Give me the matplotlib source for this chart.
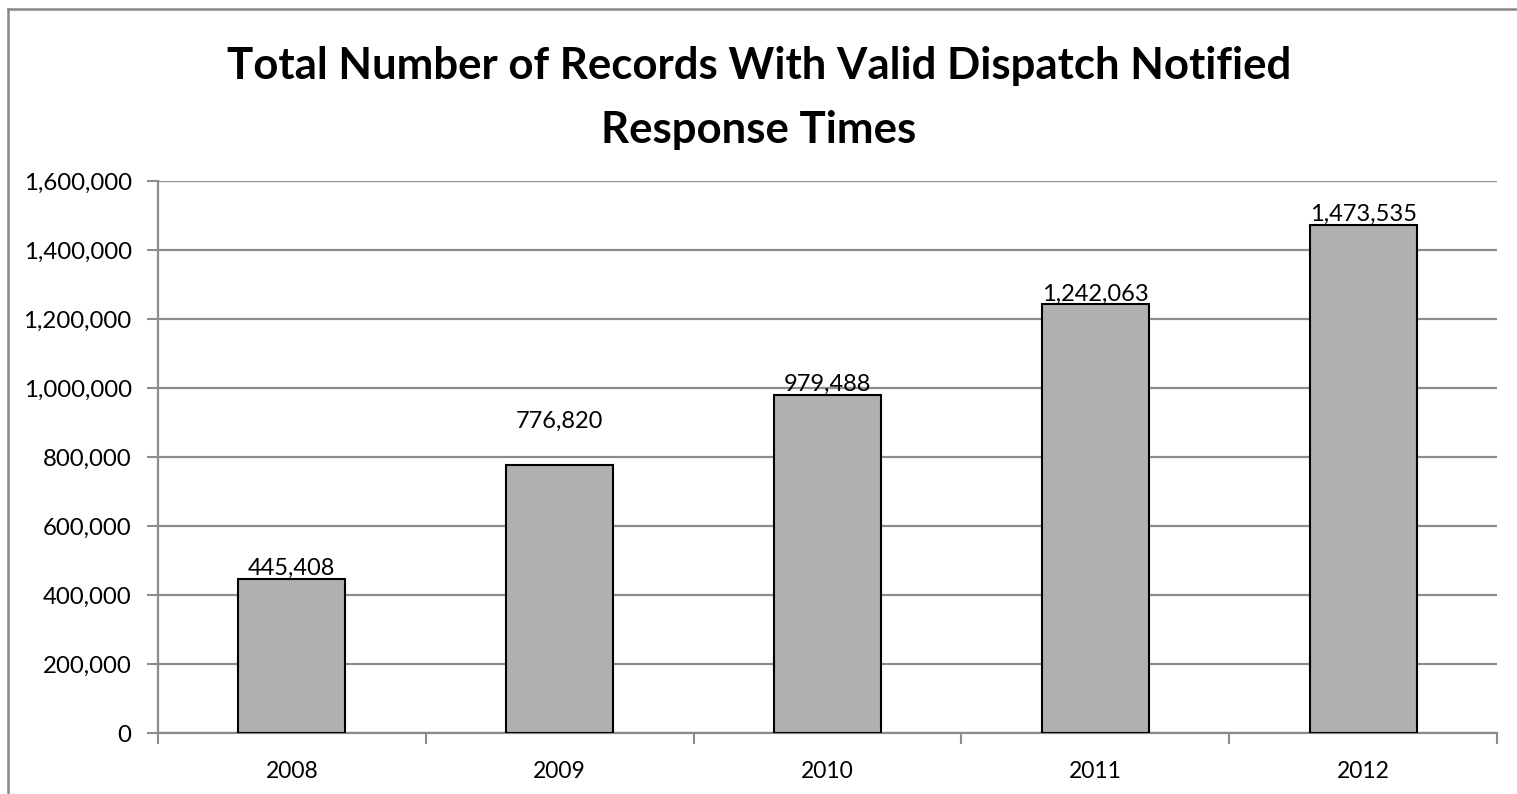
import matplotlib
matplotlib.use("Agg")
import matplotlib.pyplot as plt
from matplotlib.lines import Line2D
from matplotlib.ticker import FuncFormatter, FixedLocator
import numpy as np

# Records per year
years = ["2008", "2009", "2010", "2011", "2012"]
records = [445408, 776820, 979488, 1242063, 1473535]

# Label offsets above each bar (points)
label_offsets = [0, 24, 0, 0, 0]

plt.rcParams["font.family"] = ["Lato", "DejaVu Sans"]

fig = plt.figure(figsize=(15.17, 7.94), dpi=100)
ax = fig.add_axes([158 / 1517, 1 - 733 / 794, (1497 - 158) / 1517, (733 - 181) / 794])

x = np.arange(len(years))
bars = ax.bar(x, records, width=0.4, color="#b0b0b0", edgecolor="black", linewidth=1.5, zorder=3)

for b, v, off in zip(bars, records, label_offsets):
    ax.annotate(f"{v:,}", (b.get_x() + b.get_width() / 2, v), xytext=(0, off),
                textcoords="offset points", ha="center", va="bottom", fontsize=17, zorder=4)

ax.set_xlim(-0.5, len(years) - 0.5)
ax.set_ylim(0, 1600000)
ax.set_yticks(np.arange(0, 1600001, 200000))
ax.yaxis.set_major_formatter(FuncFormatter(lambda v, p: f"{int(v):,}"))
ax.grid(axis="y", color="#8c8c8c", linewidth=1.6, zorder=0)

# category labels centred, tick marks between categories
ax.set_xticks(x)
ax.set_xticklabels(years)
ax.xaxis.set_minor_locator(FixedLocator(np.arange(-0.5, len(years), 1.0)))
ax.tick_params(axis="x", which="major", length=0, pad=20, labelsize=16.5)
ax.tick_params(axis="x", which="minor", length=8, width=1.5, color="#8c8c8c", direction="out")
ax.tick_params(axis="y", length=8, width=1.5, color="#8c8c8c", labelsize=17.3, pad=11)

for s in ["top", "right"]:
    ax.spines[s].set_visible(False)
for s in ["left", "bottom"]:
    ax.spines[s].set_color("#8c8c8c")
    ax.spines[s].set_linewidth(1.6)

fig.text(759 / 1517, 1 - 98 / 794, "Total Number of Records With Valid Dispatch Notified\nResponse Times",
         ha="center", va="center", fontsize=31.5, fontweight="bold", linespacing=1.75)

# chart frame
fig.add_artist(Line2D([8 / 1517, 8 / 1517], [0, 1 - 9 / 794], transform=fig.transFigure, color="#888888", linewidth=1.8))
fig.add_artist(Line2D([8 / 1517, 1], [1 - 9 / 794, 1 - 9 / 794], transform=fig.transFigure, color="#888888", linewidth=1.8))

fig.savefig("out.png", dpi=100)
